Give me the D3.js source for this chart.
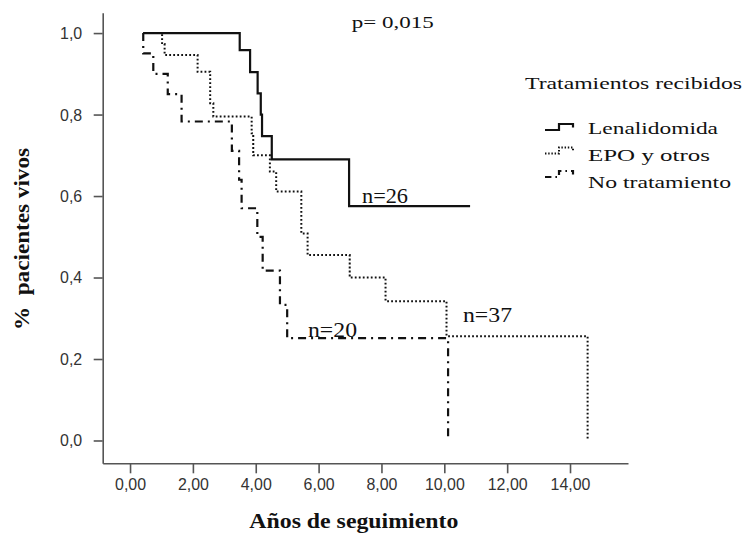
<!DOCTYPE html>
<html>
<head>
<meta charset="utf-8">
<script src="https://cdn.jsdelivr.net/npm/d3@7"></script>
<style>
  body { margin: 0; background: #fff; }
  .axis .tick text { font-family: "Liberation Sans Narrow", "Arial Narrow", "Liberation Sans", Arial, sans-serif; font-size: 17px; fill: #333; }
  .axis path, .axis line { stroke: #555; stroke-width: 1.6; }
  .serif { font-family: "Liberation Serif", "Times New Roman", serif; fill: #111; }
  .curve { fill: none; stroke: #111; }
</style>
</head>
<body>
<svg id="chart" width="749" height="538"></svg>
<script>
// Kaplan-Meier curves: time (years) and proportion alive
const lenaTimes = [0.42, 3.49, 3.82, 4.06, 4.16, 4.20, 4.51, 6.97, 10.82];
const lenaSurv  = [1.00, 0.958, 0.904, 0.852, 0.800, 0.747, 0.690, 0.575, 0.575];

const epoTimes = [0.42, 1.02, 1.10, 2.15, 2.55, 2.65, 3.87, 3.92, 4.45, 4.65, 5.45, 5.65, 6.99, 8.13, 10.07, 14.56];
const epoSurv  = [1.00, 0.973, 0.946, 0.905, 0.828, 0.795, 0.754, 0.700, 0.660, 0.611, 0.508, 0.455, 0.400, 0.342, 0.256, 0.000];

const noTimes = [0.42, 0.42, 0.74, 1.20, 1.64, 3.24, 3.47, 3.55, 4.05, 4.22, 4.77, 5.00, 10.12];
const noSurv  = [1.00, 0.95, 0.90, 0.85, 0.783, 0.711, 0.640, 0.570, 0.500, 0.417, 0.333, 0.251, 0.000];

const groups = ['Lenalidomida', 'EPO y otros', 'No tratamiento'];
const groupN = ['n=26', 'n=37', 'n=20'];

const xTicks = [0, 2, 4, 6, 8, 10, 12, 14];
const yTicks = [0, 0.2, 0.4, 0.6, 0.8, 1.0];

const pText = 'p= 0,015';
const legendTitle = 'Tratamientos recibidos';
const xTitle = 'Años de seguimiento';
const yTitle = '%\u00a0 pacientes vivos';

// ---- layout ----
const svg = d3.select('#chart');

const xScale = d3.scaleLinear().domain([-0.87, 15.845]).range([102.7, 628]);
const yScale = d3.scaleLinear().domain([-0.056, 1.05]).range([463.3, 12.7]);

const loc = d3.formatLocale({decimal: ',', thousands: '.', grouping: [3], currency: ['', '']});

// fit a text element to a measured width (the picture is stretched sideways)
const fit = (sel, w) => sel.attr('textLength', w).attr('lengthAdjust', 'spacingAndGlyphs');

// axes
const xAxis = svg.append('g')
  .attr('class', 'axis x')
  .attr('transform', `translate(0, ${yScale.range()[0]})`)
  .call(d3.axisBottom(xScale).tickValues(xTicks).tickFormat(loc.format('.2f'))
    .tickSize(10).tickSizeOuter(0).tickPadding(4.5));

const yAxis = svg.append('g')
  .attr('class', 'axis y')
  .attr('transform', `translate(${xScale.range()[0]}, 0)`)
  .call(d3.axisLeft(yScale).tickValues(yTicks).tickFormat(loc.format('.1f'))
    .tickSize(9).tickSizeOuter(0).tickPadding(11.5));

// condensed tick labels: "0,00" is about 31px wide in the reference
const probe = xAxis.select('.tick text').node();
const tickStretch = 31 / probe.getComputedTextLength();
svg.selectAll('.axis .tick text').each(function() {
  fit(d3.select(this), this.getComputedTextLength() * tickStretch);
});

// curves
const stepLine = d3.line()
  .x(d => xScale(d[0]))
  .y(d => yScale(d[1]))
  .curve(d3.curveStepAfter);

const series = [
  {times: lenaTimes, surv: lenaSurv, width: 2.2, dash: null},
  {times: epoTimes, surv: epoSurv, width: 2, dash: '1.8,2.2'},
  {times: noTimes, surv: noSurv, width: 2.2, dash: '8,5,2,5'},
];

svg.append('g').selectAll('path.curve')
  .data(series)
  .join('path')
  .attr('class', 'curve')
  .attr('stroke-width', d => d.width)
  .attr('stroke-dasharray', d => d.dash)
  .attr('d', d => stepLine(d.times.map((t, i) => [t, d.surv[i]])));

// n labels
const nPos = [
  {x: 362, y: 203, w: 46},
  {x: 463, y: 321.5, w: 49},
  {x: 308, y: 336.5, w: 49},
];
svg.append('g').selectAll('text')
  .data(groupN)
  .join('text')
  .attr('class', 'serif')
  .attr('font-size', 21)
  .attr('x', (_, i) => nPos[i].x)
  .attr('y', (_, i) => nPos[i].y)
  .text(d => d)
  .each(function(_, i) { fit(d3.select(this), nPos[i].w); });

// p value
fit(svg.append('text')
  .attr('class', 'serif')
  .attr('font-size', 17.5)
  .attr('x', 351.7).attr('y', 28)
  .text(pText), 82);

// legend
fit(svg.append('text')
  .attr('class', 'serif')
  .attr('font-size', 17.5)
  .attr('x', 525).attr('y', 89)
  .text(legendTitle), 217);

const legRows = [
  {base: 133.5, sym: 130, w: 130},
  {base: 161, sym: 153.5, w: 122},
  {base: 188, sym: 177, w: 143},
];
const leg = svg.append('g');
leg.selectAll('path')
  .data(series)
  .join('path')
  .attr('class', 'curve')
  .attr('stroke-width', d => d.width)
  .attr('stroke-dasharray', d => d.dash ? d.dash.split(',').map(v => v * 0.8).join(',') : null)
  .attr('d', (_, i) => {
    const y = legRows[i].sym;
    return `M545,${y}H559V${y - 6}H573V${y - 2.5}`;
  });
leg.selectAll('text')
  .data(groups)
  .join('text')
  .attr('class', 'serif')
  .attr('font-size', 17.5)
  .attr('x', 588)
  .attr('y', (_, i) => legRows[i].base)
  .text(d => d)
  .each(function(_, i) { fit(d3.select(this), legRows[i].w); });

// axis titles
fit(svg.append('text')
  .attr('class', 'serif')
  .attr('font-size', 22)
  .attr('font-weight', 'bold')
  .attr('x', 249.3).attr('y', 528)
  .text(xTitle), 209);

fit(svg.append('text')
  .attr('class', 'serif')
  .attr('font-size', 22)
  .attr('font-weight', 'bold')
  .attr('text-anchor', 'middle')
  .attr('transform', 'translate(29, 239) rotate(-90)')
  .text(yTitle), 182);
</script>
</body>
</html>
